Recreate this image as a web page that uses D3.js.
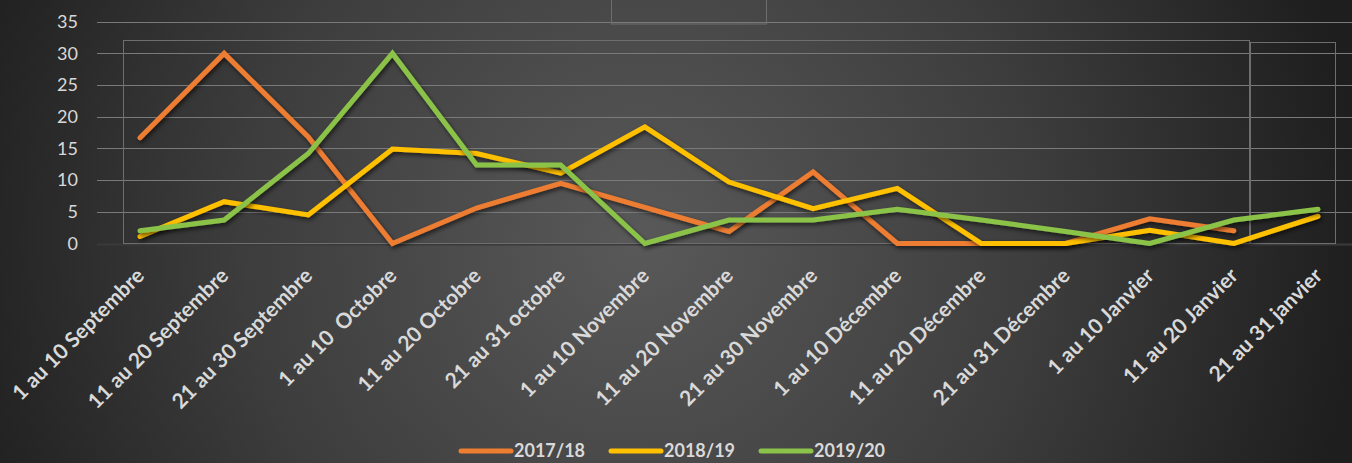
<!DOCTYPE html>
<html>
<head>
<meta charset="utf-8">
<script src="https://cdn.jsdelivr.net/npm/d3@7"></script>
<style>
  body { margin: 0; background: #2a2a2a; }
  svg { display: block; }
</style>
</head>
<body>
<div id="chart"></div>
<script>
// periods (x categories)
var periods = ['1 au 10 Septembre', '11 au 20 Septembre', '21 au 30 Septembre', '1 au 10  Octobre',
  '11 au 20 Octobre', '21 au 31 octobre', '1 au 10 Novembre', '11 au 20 Novembre', '21 au 30 Novembre',
  '1 au 10 Décembre', '11 au 20 Décembre', '21 au 31 Décembre', '1 au 10 Janvier', '11 au 20 Janvier',
  '21 au 31 janvier'];

var seasons = ['2017/18', '2018/19', '2019/20'];

var values1718 = [16.7, 30, 16.8, 0, 5.6, 9.5, 5.7, 1.9, 11.3, 0, 0, 0, 3.9, 2.0, null];
var values1819 = [1.1, 6.6, 4.5, 14.9, 14.2, 11.1, 18.4, 9.7, 5.5, 8.7, 0, 0, 2.1, 0, 4.3];
var values1920 = [2.0, 3.7, 14.2, 30, 12.4, 12.4, 0, 3.7, 3.7, 5.4, 3.7, 1.9, 0, 3.7, 5.4];

var yTicks = [0, 5, 10, 15, 20, 25, 30, 35];

var colors = ['#ed7d31', '#ffc000', '#8bc34a'];

var W = 1352, H = 463;

var svg = d3.select('#chart').append('svg')
  .attr('width', W)
  .attr('height', H);

var defs = svg.append('defs');

// background glow
var grad = defs.append('radialGradient')
  .attr('id', 'bg')
  .attr('gradientUnits', 'userSpaceOnUse')
  .attr('cx', 640).attr('cy', 240).attr('r', 720);
grad.append('stop').attr('offset', '0%').attr('stop-color', '#595959');
grad.append('stop').attr('offset', '55%').attr('stop-color', '#3d3d3d');
grad.append('stop').attr('offset', '100%').attr('stop-color', '#1e1e1e');

var shadow = defs.append('filter')
  .attr('id', 'shadow')
  .attr('x', '-5%').attr('y', '-20%')
  .attr('width', '110%').attr('height', '140%');
shadow.append('feDropShadow')
  .attr('dx', 1.5).attr('dy', 2.5)
  .attr('stdDeviation', 2)
  .attr('flood-color', '#000')
  .attr('flood-opacity', 0.6);

svg.append('rect')
  .attr('width', W).attr('height', H)
  .attr('fill', 'url(#bg)');

var x = d3.scalePoint()
  .domain(periods)
  .range([140, 1318]);

var y = d3.scaleLinear()
  .domain([0, 35])
  .range([243.5, 21.7]);

// gridlines
svg.append('g')
  .attr('class', 'grid')
  .selectAll('line')
  .data(yTicks)
  .enter()
  .append('line')
  .attr('x1', 97)
  .attr('x2', W)
  .attr('y1', d => Math.round(y(d)) + 0.5)
  .attr('y2', d => Math.round(y(d)) + 0.5)
  .style('stroke', d => d === 0 ? '#3a3a3a' : '#7a7a7a')
  .style('stroke-width', d => d === 0 ? 2 : 1);

// leftover frames from the original chart area
svg.append('g')
  .style('fill', 'none')
  .style('stroke', '#6e6e6e')
  .style('stroke-width', 1)
  .selectAll('rect')
  .data([[123.5, 40.5, 1126, 203], [1250.5, 42.5, 85, 201], [611.5, -1, 155, 25]])
  .enter()
  .append('rect')
  .attr('x', d => d[0]).attr('y', d => d[1])
  .attr('width', d => d[2]).attr('height', d => d[3]);

// y axis labels
var axisY = d3.axisLeft(y)
  .tickValues(yTicks)
  .tickSize(0)
  .tickPadding(0);

svg.append('g')
  .attr('transform', 'translate(78,0)')
  .call(axisY)
  .call(g => g.select('.domain').remove())
  .selectAll('text')
  .style('font-family', 'Lato, "Open Sans", sans-serif')
  .style('font-size', '18px')
  .style('fill', '#d9d9d9');

// x axis labels
var axisX = d3.axisBottom(x)
  .tickSize(0)
  .tickPadding(0);

svg.append('g')
  .attr('transform', 'translate(0,248)')
  .call(axisX)
  .call(g => g.select('.domain').remove())
  .selectAll('text')
  .attr('dy', 0)
  .attr('transform', 'translate(5,29) rotate(-45)')
  .style('text-anchor', 'end')
  .style('white-space', 'pre')
  .style('font-family', 'Lato, "Open Sans", sans-serif')
  .style('font-weight', 'bold')
  .style('font-size', '21px')
  .style('fill', '#d9d9d9');

// lines
var series = [values1718, values1819, values1920];

var line = d3.line()
  .defined(d => d != null)
  .x((d, i) => x(periods[i]))
  .y(d => y(d));

svg.append('g')
  .selectAll('path')
  .data(series)
  .enter()
  .append('path')
  .attr('d', d => line(d))
  .style('fill', 'none')
  .style('stroke', (d, i) => colors[i])
  .style('stroke-width', 5)
  .style('stroke-linejoin', 'miter')
  .style('stroke-linecap', 'round')
  .attr('filter', 'url(#shadow)');

// legend
var legendX = d3.scalePoint()
  .domain(seasons)
  .range([461, 761]);

var legend = svg.append('g')
  .selectAll('g')
  .data(seasons)
  .enter()
  .append('g')
  .attr('transform', d => 'translate(' + legendX(d) + ',451)');

legend.append('line')
  .attr('x1', 0).attr('x2', 50)
  .style('stroke', (d, i) => colors[i])
  .style('stroke-width', 5)
  .style('stroke-linecap', 'round');

legend.append('text')
  .attr('x', 53)
  .attr('dy', '0.35em')
  .text(d => d)
  .style('font-family', 'Lato, "Open Sans", sans-serif')
  .style('font-weight', 'bold')
  .style('font-size', '18px')
  .style('fill', '#d9d9d9');
</script>
</body>
</html>
